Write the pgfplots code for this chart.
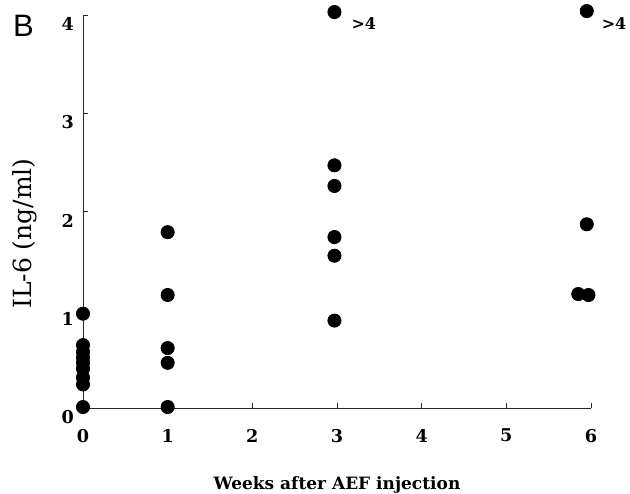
\documentclass[border=0pt]{standalone}
\usepackage{fontspec}
\setmainfont{DejaVu Serif}
\newfontfamily\helv{Liberation Sans}
\usepackage{pgfplots}
\pgfplotsset{compat=1.18}

\begin{document}
\begin{tikzpicture}
  % page = 630x493 px at 0.5pt per px, axis origin at px (83,408)
  \useasboundingbox (-41.5pt,-42.5pt) rectangle (273.5pt,204pt);
  \begin{axis}[
    scale only axis,
    width=254pt, height=196.5pt,
    xmin=0, xmax=6, ymin=0, ymax=4,
    axis x line=bottom, axis y line=left,
    axis line style={-, line width=0.5pt, black!85},
    tick align=inside,
    major tick length=2.5pt,
    tick style={black!85, line width=0.5pt},
    xtick={0,...,6}, ytick={0,...,4},
    ticklabel style={font=\fontsize{8.8}{10}\selectfont\bfseries},
    /pgf/number format/assume math mode=true,
    xticklabel style={yshift=-7pt},
    yticklabel style={xshift=-1pt, yshift=-4.5pt},
    xlabel={\bfseries Weeks after AEF injection},
    xlabel style={font=\fontsize{8.5}{10}\selectfont, yshift=-10pt},
    ylabel={IL-6 (ng/ml)},
    ylabel style={font=\fontsize{12.5}{14}\selectfont, yshift=5.5pt, xshift=-11pt},
    clip=false,
  ]
    \addplot[only marks, mark=*, mark size=3.3pt, black] coordinates {
      (0,0.01) (0,0.24) (0,0.31) (0,0.40) (0,0.46) (0,0.51) (0,0.57) (0,0.64) (0,0.96)
      (1,0.01) (1,0.46) (1,0.61) (1,1.15) (1,1.79)
      (2.97,0.89) (2.97,1.55) (2.97,1.74) (2.97,2.26) (2.97,2.47) (2.97,4.03)
      (5.85,1.16) (5.97,1.15) (5.95,1.87) (5.95,4.04)
    };
    \node[anchor=west, font=\fontsize{8}{10}\selectfont\bfseries, xshift=5pt, yshift=-6pt]
      at (axis cs:2.97,4.03) {>4};
    \node[anchor=west, font=\fontsize{8}{10}\selectfont\bfseries, xshift=4pt, yshift=-6pt]
      at (axis cs:5.95,4.04) {>4};
  \end{axis}
  \node[anchor=west, font=\helv\fontsize{15.5}{17}\selectfont] at (-38.5pt,191pt) {B};
\end{tikzpicture}
\end{document}
